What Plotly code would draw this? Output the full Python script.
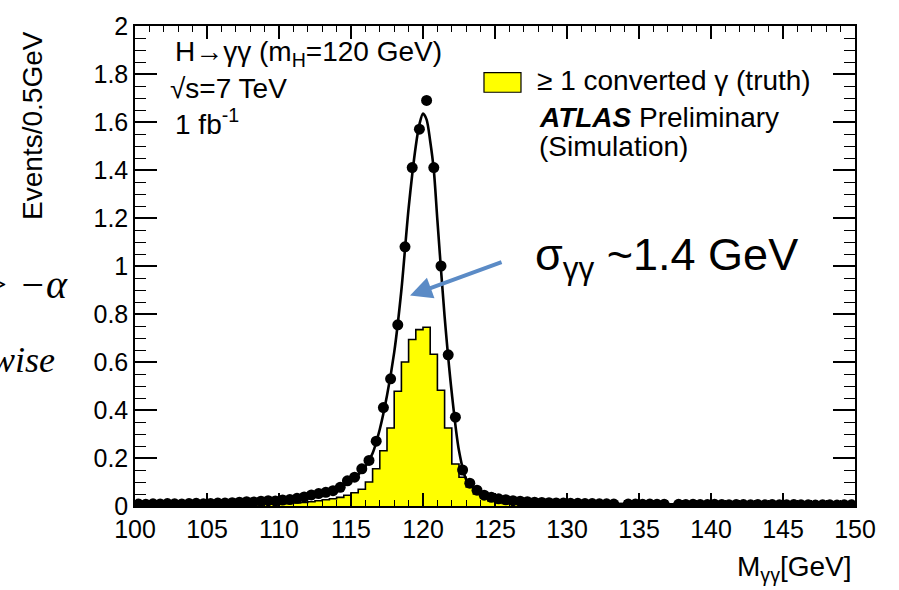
import numpy as np
import plotly.graph_objects as go

# ---------------- data ----------------
# bin centres of 0.5 GeV bins between 100 and 150 GeV
mass_centers = list(np.arange(100.25, 150.0, 0.5))
mass_edges_low = list(np.arange(100.0, 149.75, 0.5))

all_events = [
    # 100.25 - 105.75
    0.008, 0.007, 0.009, 0.008, 0.010, 0.009, 0.008, 0.010, 0.011, 0.009, 0.010, 0.012,
    # 106.25 - 109.75
    0.012, 0.014, 0.016, 0.018, 0.017, 0.020, 0.022, 0.021,
    # 110.25 - 124.75
    0.025, 0.027, 0.032, 0.038, 0.046, 0.052, 0.057, 0.064, 0.078, 0.105,
    0.12, 0.155, 0.19, 0.27, 0.41, 0.53, 0.755, 1.08, 1.41, 1.57,
    1.69, 1.41, 1.00, 0.63, 0.37, 0.15, 0.095, 0.066, 0.045, 0.036,
    # 125.25 - 137.25
    0.030, 0.026, 0.022, 0.020, 0.018, 0.016, 0.015, 0.014, 0.013, 0.012,
    0.011, 0.011, 0.010, 0.010, 0.009, 0.009, 0.008, None, 0.008, 0.008,
    0.007, 0.008, 0.007, 0.007, None,
    # 137.75 - 149.75
    0.007, 0.006, 0.007, 0.006, 0.006, 0.007, 0.006, 0.005, 0.006, 0.006,
    0.005, 0.006, 0.005, 0.006, 0.005, 0.005, 0.006, 0.005, 0.005, 0.004,
    0.005, 0.005, 0.004, 0.005, 0.005,
]

converted_events = [
    # 100 - 105.5
    0.001, 0.001, 0.001, 0.001, 0.002, 0.001, 0.002, 0.002, 0.002, 0.003, 0.002, 0.003,
    # 106 - 109.5
    0.003, 0.004, 0.005, 0.005, 0.006, 0.007, 0.008, 0.009,
    # 110 - 114.5
    0.010, 0.011, 0.013, 0.015, 0.018, 0.022, 0.026, 0.030, 0.036, 0.045,
    # 115 - 119.5
    0.055, 0.070, 0.100, 0.155, 0.230, 0.325, 0.478, 0.600, 0.694, 0.735,
    # 120 - 124.5
    0.745, 0.632, 0.482, 0.325, 0.175, 0.120, 0.079, 0.050, 0.032, 0.022,
    # 125 - 129.5
    0.015, 0.011, 0.008, 0.006, 0.005, 0.004, 0.003, 0.003, 0.002, 0.002,
    # 130 - 149.5
    0.002, 0.002, 0.002, 0.002, 0.001, 0.002, 0.001, 0.001, 0.001, 0.001,
    0.001, 0.001, 0.001, 0.001, 0.001, 0.001, 0.001, 0.001, 0.001, 0.001,
    0.001, 0.001, 0.001, 0.001, 0.001, 0.001, 0.001, 0.001, 0.001, 0.001,
    0.001, 0.001, 0.001, 0.001, 0.001, 0.001, 0.001, 0.001, 0.001, 0.001,
]

fit_mass = [100, 102, 104, 106, 108, 110, 111, 112, 113, 114, 114.5, 115, 115.5,
            116, 116.5, 117, 117.5, 118, 118.5, 119, 119.5, 119.75, 120, 120.25,
            120.5, 120.75, 121, 121.5, 122, 122.5, 123, 123.5, 124, 124.5, 125,
            126, 127, 128, 130, 133, 137, 142, 150]
fit_values = [0.008, 0.009, 0.010, 0.012, 0.016, 0.022, 0.028, 0.037, 0.050, 0.068,
              0.085, 0.105, 0.13, 0.165, 0.22, 0.32, 0.46, 0.64, 0.90, 1.24, 1.50,
              1.59, 1.635, 1.61, 1.52, 1.40, 1.19, 0.79, 0.47, 0.23, 0.11, 0.075,
              0.052, 0.040, 0.031, 0.022, 0.017, 0.014, 0.011, 0.009, 0.007, 0.006,
              0.005]

x_ticks = [100, 105, 110, 115, 120, 125, 130, 135, 140, 145, 150]
y_ticks = [0, 0.2, 0.4, 0.6, 0.8, 1, 1.2, 1.4, 1.6, 1.8, 2]
y_tick_text = ["0", "0.2", "0.4", "0.6", "0.8", "1", "1.2", "1.4", "1.6", "1.8", "2"]

# step outline needs the closing edge
step_x = mass_edges_low + [150.0]
step_y = converted_events + [converted_events[-1]]

SANS = "Liberation Sans, Arial, Helvetica, sans-serif"
SERIF = "Liberation Serif, Times New Roman, serif"

fig = go.Figure()

fig.add_trace(go.Scatter(
    x=step_x, y=step_y, mode="lines", line=dict(shape="hv", color="black", width=1.6),
    fill="tozeroy", fillcolor="#FFFF00", showlegend=False, hoverinfo="skip"))

fig.add_trace(go.Scatter(
    x=fit_mass, y=fit_values, mode="lines",
    line=dict(shape="spline", smoothing=0.8, color="black", width=2.6),
    showlegend=False))

fig.add_trace(go.Scatter(
    x=mass_centers, y=all_events, mode="markers",
    marker=dict(symbol="circle", size=11, color="black"),
    showlegend=False))

axis_common = dict(showline=True, linecolor="black", linewidth=1.5, mirror="ticks",
                   ticks="inside", tickcolor="black", tickwidth=1.5,
                   showgrid=False, zeroline=False,
                   tickfont=dict(family=SANS, size=25, color="black"))

fig.update_xaxes(range=[100, 150], tickmode="array", tickvals=x_ticks,
                 ticktext=[str(v) for v in x_ticks], ticklen=13,
                 minor=dict(dtick=1, ticklen=6, ticks="inside", tickcolor="black", tickwidth=1.2),
                 **axis_common)
fig.update_yaxes(range=[0, 2], tickmode="array", tickvals=y_ticks,
                 ticktext=y_tick_text, ticklen=22,
                 minor=dict(dtick=0.05, ticklen=11, ticks="inside", tickcolor="black", tickwidth=1.2),
                 **axis_common)

TXT = 28
annotations = [
    dict(text="H→γγ (m<sub>H</sub>=120 GeV)", x=0.0528, y=0.942, xanchor="left", yanchor="middle",
         font=dict(family=SANS, size=TXT, color="black")),
    dict(text="√s=7 TeV", x=0.046, y=0.869, xanchor="left", yanchor="middle",
         font=dict(family=SANS, size=TXT, color="black")),
    dict(text="1 fb<sup>-1</sup>", x=0.0528, y=0.799, xanchor="left", yanchor="middle",
         font=dict(family=SANS, size=TXT, color="black")),
    dict(text="≥ 1 converted γ (truth)", x=0.5556, y=0.887, xanchor="left", yanchor="middle",
         font=dict(family=SANS, size=TXT, color="black")),
    dict(text="<b><i>ATLAS</i></b> Preliminary", x=0.5585, y=0.809, xanchor="left", yanchor="middle",
         font=dict(family=SANS, size=TXT, color="black")),
    dict(text="(Simulation)", x=0.5585, y=0.748, xanchor="left", yanchor="middle",
         font=dict(family=SANS, size=TXT, color="black")),
    dict(text="σ<sub>γγ</sub> ~1.4 GeV", x=0.553, y=0.518, xanchor="left", yanchor="middle",
         font=dict(family=SANS, size=45, color="black")),
    dict(text="Events/0.5GeV", x=-0.1417, y=0.995, xanchor="center", yanchor="top",
         textangle=-90, font=dict(family=SANS, size=28, color="black")),
    dict(text="M<sub>γγ</sub>[GeV]", x=0.998, y=-0.131, xanchor="right", yanchor="middle",
         font=dict(family=SANS, size=TXT, color="black")),
    dict(text="<i>&gt; −α</i>", x=-0.0903, y=0.462, xanchor="right", yanchor="middle",
         font=dict(family=SERIF, size=40, color="black")),
    dict(text="<i>otherwise</i>", x=-0.1083, y=0.305, xanchor="right", yanchor="middle",
         font=dict(family=SERIF, size=36, color="black")),
]
for a in annotations:
    a.update(xref="paper", yref="paper", showarrow=False)

# blue arrow pointing at the fitted curve
annotations.append(dict(
    x=119.1, y=0.877, xref="x", yref="y", text="", showarrow=True,
    ax=93, ay=-34, axref="pixel", ayref="pixel",
    arrowhead=2, arrowsize=1.1, arrowwidth=4, arrowcolor="#5B8BC6", standoff=0))

fig.update_layout(
    width=899, height=590,
    margin=dict(l=135, r=44, t=18, b=84),
    paper_bgcolor="white", plot_bgcolor="white",
    showlegend=False,
    annotations=annotations,
    shapes=[dict(type="rect", xref="paper", yref="paper",
                 x0=0.4847, x1=0.5361, y0=0.862, y1=0.903,
                 fillcolor="#FFFF00", line=dict(color="black", width=1.2))],
)

fig.write_html("out.html")
